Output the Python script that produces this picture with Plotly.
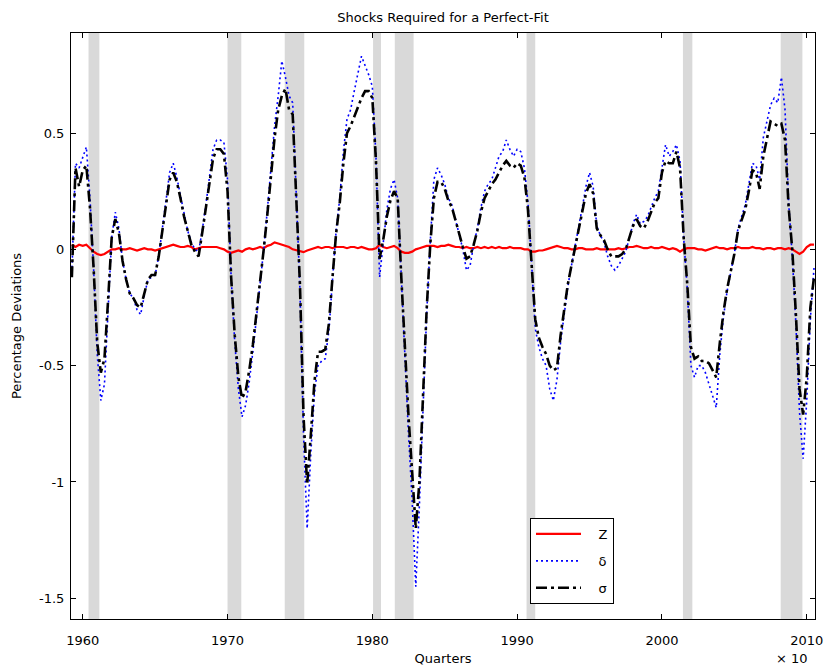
import plotly.graph_objects as go

start_year = 1959.25
step = 0.25

# Z (red) - quarterly, 1959Q2 .. 2010Q3
z_vals = [
    0.02, 0.01, 0.02,
    0.015, 0.02, 0.005, -0.01,
    -0.02, -0.025, -0.02, -0.01,
    0.0, 0.0, 0.005, 0.0,
    0.0, 0.005, 0.0, -0.005,
    0.0, 0.005, 0.0, 0.0,
    -0.005, 0.0, 0.005, 0.01,
    0.015, 0.02, 0.015, 0.01,
    0.01, 0.015, 0.01, 0.0,
    0.005, 0.01, 0.01, 0.01,
    0.01, 0.01, 0.005, 0.0,
    -0.01, -0.015, -0.01, -0.005,
    -0.01, 0.0, 0.005, 0.0,
    0.005, 0.01, 0.005, 0.015,
    0.02, 0.03, 0.025, 0.02,
    0.015, 0.01, 0.0, -0.005,
    -0.01, -0.012, -0.005, 0.0,
    0.005, 0.01, 0.005, 0.01,
    0.01, 0.005, 0.01, 0.01,
    0.01, 0.005, 0.01, 0.01,
    0.005, 0.01, 0.005, 0.0,
    0.0, 0.005, 0.02, 0.01,
    0.005, 0.01, 0.015, 0.005,
    -0.01, -0.015, -0.015, -0.01,
    0.0, 0.005, 0.01, 0.015,
    0.015, 0.015, 0.01, 0.015,
    0.015, 0.02, 0.015, 0.01,
    0.01, 0.005, 0.01, 0.005,
    0.005, 0.01, 0.005, 0.01,
    0.005, 0.01, 0.005, 0.01,
    0.005, 0.005, 0.01, 0.005,
    0.005, 0.005, 0.0, 0.0,
    -0.01, -0.01, -0.005, -0.005,
    0.0, 0.005, 0.01, 0.015,
    0.01, 0.005, 0.005, 0.0,
    0.0, 0.005, 0.005, 0.0,
    0.0, 0.0, 0.005, 0.0,
    0.0, 0.0, 0.0, 0.0,
    0.005, 0.0, 0.005, 0.01,
    0.01, 0.015, 0.01, 0.005,
    0.005, 0.01, 0.005, 0.005,
    0.01, 0.005, 0.0, 0.005,
    0.0, -0.01, 0.0, 0.005,
    0.005, 0.005, 0.0, 0.0,
    -0.005, 0.0, 0.005, 0.01,
    0.005, 0.005, 0.0, 0.005,
    0.005, 0.01, 0.005, 0.005,
    0.005, 0.01, 0.005, 0.005,
    0.0, 0.005, 0.005, 0.0,
    0.005, 0.005, 0.0, 0.005,
    0.0, -0.01, -0.02, -0.01,
    0.01, 0.02, 0.02,
]

# delta (blue dotted)
delta_vals = [
    -0.10, 0.37, 0.35,
    0.40, 0.44, 0.22, -0.08,
    -0.45, -0.65, -0.58, -0.25,
    0.05, 0.16, 0.09, -0.05,
    -0.13, -0.19, -0.21, -0.26,
    -0.28, -0.20, -0.13, -0.12,
    -0.11, -0.03, 0.09, 0.22,
    0.33, 0.37, 0.31, 0.23,
    0.15, 0.08, 0.03, 0.00,
    -0.01, 0.08, 0.19, 0.32,
    0.43, 0.47, 0.47, 0.46,
    0.30, -0.12, -0.40, -0.60,
    -0.72, -0.67, -0.57, -0.44,
    -0.30, -0.14, 0.00, 0.17,
    0.36, 0.53, 0.66, 0.81,
    0.74, 0.66, 0.63, 0.20,
    -0.17, -0.80, -1.20, -0.88,
    -0.62, -0.50, -0.48, -0.47,
    -0.35, -0.13, 0.08, 0.22,
    0.42, 0.56, 0.60, 0.68,
    0.75, 0.83, 0.79, 0.75,
    0.70, 0.40, -0.12, 0.03,
    0.17, 0.26, 0.30, 0.22,
    -0.14, -0.48, -0.80, -1.08,
    -1.45, -1.10, -0.66, -0.28,
    0.03, 0.30, 0.35, 0.32,
    0.28, 0.22, 0.19, 0.13,
    0.06, 0.00, -0.09, -0.07,
    0.02, 0.09, 0.18, 0.25,
    0.28, 0.30, 0.35, 0.40,
    0.42, 0.47, 0.43, 0.40,
    0.43, 0.42, 0.35, 0.20,
    -0.06, -0.34, -0.42, -0.47,
    -0.50, -0.60, -0.65, -0.56,
    -0.40, -0.27, -0.16, -0.07,
    0.01, 0.09, 0.18, 0.27,
    0.33, 0.27, 0.10, 0.06,
    0.03, -0.03, -0.07, -0.09,
    -0.07, -0.04, -0.01, 0.05,
    0.11, 0.15, 0.11, 0.12,
    0.14, 0.18, 0.22, 0.25,
    0.36, 0.45, 0.40, 0.42,
    0.45, 0.38, 0.05, -0.17,
    -0.50, -0.55, -0.50, -0.50,
    -0.53, -0.58, -0.62, -0.68,
    -0.45, -0.29, -0.18, -0.10,
    -0.02, 0.09, 0.14, 0.19,
    0.28, 0.37, 0.36, 0.30,
    0.48, 0.55, 0.62, 0.65,
    0.63, 0.74, 0.60, 0.20,
    -0.03, -0.32, -0.70, -0.90,
    -0.65, -0.30, -0.08,
]

# sigma (black dash-dot)
sigma_vals = [
    -0.12, 0.35, 0.27,
    0.34, 0.36, 0.18, -0.08,
    -0.40, -0.53, -0.47, -0.22,
    0.05, 0.13, 0.07, -0.05,
    -0.13, -0.19, -0.21, -0.24,
    -0.25, -0.19, -0.13, -0.11,
    -0.11, -0.03, 0.08, 0.20,
    0.30, 0.33, 0.29, 0.22,
    0.14, 0.08, 0.02, -0.01,
    -0.03, 0.07, 0.17, 0.28,
    0.39, 0.43, 0.43, 0.41,
    0.25, -0.12, -0.37, -0.55,
    -0.64, -0.61, -0.52, -0.41,
    -0.28, -0.13, 0.00, 0.15,
    0.32, 0.48, 0.60, 0.66,
    0.69, 0.60, 0.58, 0.20,
    -0.15, -0.72, -1.01, -0.80,
    -0.57, -0.44, -0.44, -0.43,
    -0.32, -0.12, 0.07, 0.20,
    0.37, 0.50, 0.53, 0.57,
    0.61, 0.65, 0.68, 0.68,
    0.65, 0.38, -0.04, 0.04,
    0.14, 0.21, 0.25, 0.22,
    -0.12, -0.44, -0.72, -0.96,
    -1.20, -1.00, -0.62, -0.26,
    0.02, 0.22, 0.29, 0.29,
    0.26, 0.21, 0.18, 0.12,
    0.06, 0.01, -0.04, -0.03,
    0.02, 0.08, 0.16, 0.22,
    0.25, 0.28, 0.30, 0.33,
    0.36, 0.38, 0.36, 0.35,
    0.37, 0.36, 0.31, 0.17,
    -0.06, -0.30, -0.38, -0.42,
    -0.45, -0.50, -0.52, -0.51,
    -0.37, -0.25, -0.15, -0.07,
    0.01, 0.08, 0.16, 0.24,
    0.28, 0.24, 0.09, 0.06,
    0.04, 0.00, -0.03, -0.03,
    -0.03, -0.02, 0.00, 0.05,
    0.10, 0.13, 0.10, 0.09,
    0.12, 0.16, 0.20, 0.22,
    0.33, 0.38, 0.37, 0.37,
    0.42, 0.35, 0.05, -0.15,
    -0.42, -0.47, -0.46, -0.48,
    -0.48, -0.49, -0.52, -0.55,
    -0.40, -0.27, -0.17, -0.09,
    -0.02, 0.08, 0.13, 0.17,
    0.25, 0.34, 0.33, 0.26,
    0.40, 0.48, 0.55, 0.54,
    0.53, 0.54, 0.47, 0.18,
    0.00, -0.28, -0.60, -0.71,
    -0.55, -0.25, -0.12,
]

quarters = [start_year + step * i for i in range(len(sigma_vals))]

# NBER recession bands (as drawn)
rec_start = [1960.4, 1970.0, 1973.95, 1980.05, 1981.55, 1990.65, 2001.45, 2008.2]
rec_end = [1961.15, 1970.95, 1975.3, 1980.6, 1982.85, 1991.25, 2002.1, 2009.7]

x_ticks = [1960, 1970, 1980, 1990, 2000, 2010]
y_ticks = [-1.5, -1, -0.5, 0, 0.5]
y_tick_text = ["-1.5", "-1", "-0.5", "0", "0.5"]

FONT = "DejaVu Sans, Liberation Sans, Arial, sans-serif"
FS = 13
PAD = "\u00a0\u00a0\u00a0"

fig = go.Figure()
fig.add_trace(go.Scatter(x=quarters, y=z_vals, mode="lines", name=PAD + "Z",
                         legendgroup="a",
                         line=dict(color="#ff0000", width=2.2)))
fig.add_trace(go.Scatter(x=quarters, y=delta_vals, mode="lines", name=PAD + "δ",
                         legendgroup="b",
                         line=dict(color="#0000ff", width=1.6, dash="2px,3px")))
fig.add_trace(go.Scatter(x=quarters, y=sigma_vals, mode="lines", name=PAD + "σ",
                         legendgroup="c",
                         line=dict(color="#000000", width=2.6, dash="11px,4px,3px,4px")))

shapes = []
for a, b in zip(rec_start, rec_end):
    shapes.append(dict(type="rect", xref="x", yref="paper", x0=a, x1=b, y0=0, y1=1,
                       fillcolor="#d9d9d9", line=dict(width=0), layer="below"))

fig.update_layout(
    width=827, height=669, autosize=False,
    margin=dict(l=71, r=12, t=33, b=50, autoexpand=False),
    paper_bgcolor="white", plot_bgcolor="white",
    font=dict(family=FONT, size=FS, color="black"),
    title=dict(text="Shocks Required for a Perfect-Fit", x=0.5, xanchor="center",
               xref="paper", y=1 - 17 / 669, yanchor="middle",
               font=dict(family=FONT, size=FS, color="black")),
    shapes=shapes,
    showlegend=True,
    legend=dict(x=(530 - 71) / 744, y=(619 - 518) / 586, xanchor="left", yanchor="top",
                bgcolor="white", bordercolor="black", borderwidth=1,
                tracegroupgap=7, itemwidth=45,
                font=dict(family=FONT, size=FS, color="black")),
    xaxis=dict(range=[1959.19, 2010.57], tickvals=x_ticks, ticks="inside", ticklen=5,
               showline=True, linecolor="black", linewidth=1, mirror="ticks",
               showgrid=False, zeroline=False, tickcolor="black",
               ticklabelstandoff=9, automargin=False,
               title=dict(text="Quarters", standoff=7,
                          font=dict(family=FONT, size=FS))),
    yaxis=dict(range=[-1.589, 0.93], tickvals=y_ticks, ticktext=y_tick_text,
               ticks="inside", ticklen=5,
               showline=True, linecolor="black", linewidth=1, mirror="ticks",
               showgrid=False, zeroline=False, tickcolor="black",
               ticklabelstandoff=3, automargin=False,
               title=dict(text="Percentage Deviations", standoff=14,
                          font=dict(family=FONT, size=FS))),
)

fig.add_annotation(text="× 10", xref="paper", yref="paper", x=(792 - 71) / 744,
                   y=-(658 - 619) / 586, xanchor="center", yanchor="middle",
                   showarrow=False, font=dict(family=FONT, size=FS, color="black"))

fig.write_html("out.html", config={"displayModeBar": False, "responsive": False},
               post_script="document.body.style.margin='0px';document.body.style.overflow='hidden';")
